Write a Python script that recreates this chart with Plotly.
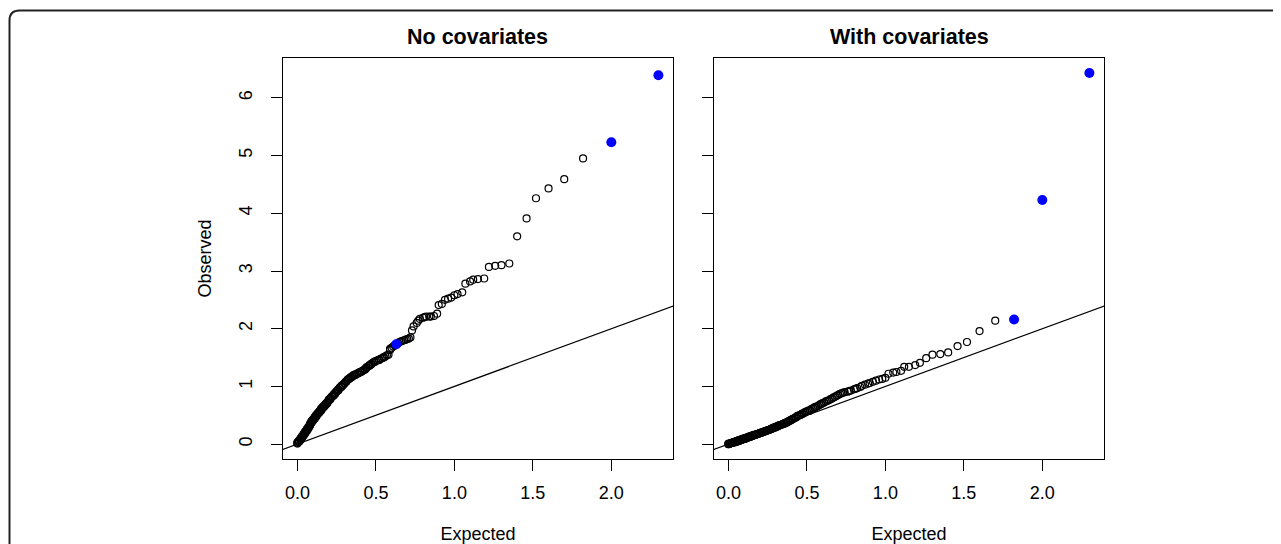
import plotly.graph_objects as go

# ---------------- data ----------------
panel_titles = ["No covariates", "With covariates"]
x_title = "Expected"
y_title = "Observed"
x_tickvals = [0.0, 0.5, 1.0, 1.5, 2.0]
x_ticktext = ["0.0", "0.5", "1.0", "1.5", "2.0"]
y_tickvals = [0, 1, 2, 3, 4, 5, 6]
y_ticktext = ["0", "1", "2", "3", "4", "5", "6"]

# expected -log10(p) quantiles (ranks 1..200)
expected = [
    2.30, 2.00, 1.82, 1.70, 1.60, 1.52, 1.46, 1.40, 1.35, 1.30,
    1.26, 1.22, 1.19, 1.15, 1.12, 1.10, 1.07, 1.05, 1.02, 1.00,
    0.98, 0.96, 0.94, 0.92, 0.90, 0.89, 0.87, 0.85, 0.84, 0.82,
    0.81, 0.80, 0.78, 0.77, 0.76, 0.74, 0.73, 0.72, 0.71, 0.70,
    0.69, 0.68, 0.67, 0.66, 0.65, 0.64, 0.63, 0.62, 0.61, 0.60,
    0.59, 0.59, 0.58, 0.57, 0.56, 0.55, 0.55, 0.54, 0.53, 0.52,
    0.52, 0.51, 0.50, 0.49, 0.49, 0.48, 0.47, 0.47, 0.46, 0.46,
    0.45, 0.44, 0.44, 0.43, 0.43, 0.42, 0.41, 0.41, 0.40, 0.40,
    0.39, 0.39, 0.38, 0.38, 0.37, 0.37, 0.36, 0.36, 0.35, 0.35,
    0.34, 0.34, 0.33, 0.33, 0.32, 0.32, 0.31, 0.31, 0.31, 0.30,
    0.30, 0.29, 0.29, 0.28, 0.28, 0.28, 0.27, 0.27, 0.26, 0.26,
    0.26, 0.25, 0.25, 0.24, 0.24, 0.24, 0.23, 0.23, 0.23, 0.22,
    0.22, 0.21, 0.21, 0.21, 0.20, 0.20, 0.20, 0.19, 0.19, 0.19,
    0.18, 0.18, 0.18, 0.17, 0.17, 0.17, 0.16, 0.16, 0.16, 0.15,
    0.15, 0.15, 0.15, 0.14, 0.14, 0.14, 0.13, 0.13, 0.13, 0.12,
    0.12, 0.12, 0.12, 0.11, 0.11, 0.11, 0.11, 0.10, 0.10, 0.10,
    0.09, 0.09, 0.09, 0.09, 0.08, 0.08, 0.08, 0.08, 0.07, 0.07,
    0.07, 0.07, 0.06, 0.06, 0.06, 0.06, 0.05, 0.05, 0.05, 0.05,
    0.04, 0.04, 0.04, 0.04, 0.03, 0.03, 0.03, 0.03, 0.02, 0.02,
    0.02, 0.02, 0.02, 0.01, 0.01, 0.01, 0.01, 0.00, 0.00, 0.00,
]

observed_no_cov = [
    6.39, 5.23, 4.95, 4.59, 4.43, 4.26, 3.91, 3.60, 3.13, 3.10,
    3.09, 3.07, 2.87, 2.86, 2.85, 2.82, 2.78, 2.63, 2.60, 2.58,
    2.54, 2.52, 2.50, 2.43, 2.41, 2.26, 2.22, 2.21, 2.21, 2.21,
    2.20, 2.19, 2.17, 2.14, 2.10, 2.04, 1.97, 1.85, 1.83, 1.82,
    1.81, 1.80, 1.79, 1.78, 1.77, 1.75, 1.73, 1.71, 1.69, 1.67,
    1.65, 1.63, 1.55, 1.54, 1.52, 1.51, 1.50, 1.49, 1.48, 1.46,
    1.46, 1.45, 1.44, 1.43, 1.42, 1.41, 1.39, 1.38, 1.37, 1.36,
    1.35, 1.33, 1.32, 1.30, 1.29, 1.28, 1.26, 1.26, 1.25, 1.25,
    1.24, 1.23, 1.22, 1.22, 1.21, 1.20, 1.20, 1.19, 1.18, 1.17,
    1.16, 1.15, 1.14, 1.13, 1.12, 1.11, 1.09, 1.08, 1.08, 1.06,
    1.05, 1.03, 1.02, 1.01, 1.00, 0.99, 0.98, 0.97, 0.95, 0.94,
    0.93, 0.92, 0.91, 0.89, 0.88, 0.87, 0.86, 0.85, 0.84, 0.83,
    0.82, 0.80, 0.79, 0.78, 0.77, 0.76, 0.75, 0.73, 0.72, 0.71,
    0.70, 0.69, 0.68, 0.67, 0.66, 0.65, 0.64, 0.63, 0.62, 0.61,
    0.60, 0.59, 0.58, 0.57, 0.56, 0.55, 0.54, 0.53, 0.52, 0.51,
    0.50, 0.49, 0.48, 0.47, 0.46, 0.45, 0.44, 0.43, 0.42, 0.41,
    0.40, 0.39, 0.38, 0.37, 0.35, 0.34, 0.33, 0.32, 0.30, 0.29,
    0.28, 0.27, 0.26, 0.25, 0.24, 0.23, 0.22, 0.21, 0.20, 0.19,
    0.18, 0.17, 0.16, 0.15, 0.14, 0.13, 0.12, 0.11, 0.10, 0.09,
    0.08, 0.08, 0.07, 0.06, 0.05, 0.05, 0.04, 0.03, 0.02, 0.01,
]

observed_with_cov = [
    6.43, 4.23, 2.16, 2.14, 1.96, 1.77, 1.70, 1.59, 1.56, 1.55,
    1.49, 1.41, 1.37, 1.34, 1.34, 1.27, 1.25, 1.24, 1.22, 1.15,
    1.13, 1.12, 1.10, 1.08, 1.06, 1.05, 1.03, 1.01, 0.99, 0.97,
    0.96, 0.95, 0.93, 0.92, 0.91, 0.90, 0.89, 0.88, 0.87, 0.85,
    0.84, 0.82, 0.81, 0.79, 0.78, 0.76, 0.75, 0.74, 0.72, 0.71,
    0.70, 0.69, 0.68, 0.66, 0.65, 0.64, 0.63, 0.62, 0.61, 0.59,
    0.58, 0.58, 0.57, 0.56, 0.55, 0.54, 0.53, 0.52, 0.51, 0.51,
    0.50, 0.49, 0.48, 0.47, 0.46, 0.45, 0.44, 0.43, 0.42, 0.42,
    0.41, 0.40, 0.39, 0.39, 0.38, 0.37, 0.37, 0.36, 0.35, 0.35,
    0.34, 0.34, 0.33, 0.33, 0.32, 0.32, 0.31, 0.31, 0.30, 0.30,
    0.29, 0.29, 0.28, 0.28, 0.27, 0.27, 0.26, 0.26, 0.25, 0.25,
    0.25, 0.24, 0.24, 0.23, 0.23, 0.23, 0.22, 0.22, 0.22, 0.21,
    0.21, 0.20, 0.20, 0.20, 0.19, 0.19, 0.19, 0.18, 0.18, 0.18,
    0.17, 0.17, 0.17, 0.16, 0.16, 0.16, 0.16, 0.15, 0.15, 0.15,
    0.14, 0.14, 0.14, 0.14, 0.13, 0.13, 0.13, 0.12, 0.12, 0.12,
    0.11, 0.11, 0.11, 0.11, 0.10, 0.10, 0.10, 0.10, 0.09, 0.09,
    0.09, 0.09, 0.08, 0.08, 0.08, 0.08, 0.07, 0.07, 0.07, 0.07,
    0.06, 0.06, 0.06, 0.06, 0.05, 0.05, 0.05, 0.05, 0.04, 0.04,
    0.04, 0.04, 0.04, 0.03, 0.03, 0.03, 0.03, 0.03, 0.02, 0.02,
    0.02, 0.02, 0.02, 0.01, 0.01, 0.01, 0.01, 0.01, 0.00, 0.00,
]

# ranks (0-based) drawn as highlighted blue points
highlight_no_cov = [0, 1, 46]
highlight_with_cov = [0, 1, 2]

# ---------------- figure ----------------
PAGE_W, PAGE_H = 1281, 544
OFF = 8  # default page body margin
W, H = PAGE_W - OFF, PAGE_H - OFF
FONT = "Liberation Sans, Arial, Helvetica, sans-serif"
x_range = [-0.092, 2.393]
y_range = [-0.257, 6.69]


def px_x(p):
    return (p - OFF) / W


def px_y(p):
    return 1 - (p - OFF) / H


fig = go.Figure()
panels = [
    (observed_no_cov, highlight_no_cov, "x", "y"),
    (observed_with_cov, highlight_with_cov, "x2", "y2"),
]
for obs, hl, xa, ya in panels:
    fig.add_trace(go.Scatter(
        x=expected, y=obs, mode="markers", xaxis=xa, yaxis=ya,
        marker=dict(symbol="circle-open", size=7, color="black",
                    line=dict(width=1.2, color="black")),
        hoverinfo="skip", showlegend=False))
    fig.add_trace(go.Scatter(
        x=[-1, 3], y=[-1, 3], mode="lines", xaxis=xa, yaxis=ya,
        line=dict(color="black", width=1.2),
        hoverinfo="skip", showlegend=False))
    fig.add_trace(go.Scatter(
        x=[expected[i] for i in hl], y=[obs[i] for i in hl],
        mode="markers", xaxis=xa, yaxis=ya,
        marker=dict(symbol="circle", size=10, color="#0000ff"),
        showlegend=False))

tickfont = dict(family=FONT, size=18, color="black")
xcommon = dict(
    range=x_range, tickvals=x_tickvals, ticktext=x_ticktext,
    ticks="outside", ticklen=11, tickwidth=1, tickcolor="black",
    showline=True, linecolor="black", linewidth=1, mirror=True,
    showgrid=False, zeroline=False, tickfont=tickfont,
    ticklabelstandoff=6, automargin=False,
    title=dict(text=x_title, font=tickfont, standoff=38),
)
ycommon = dict(
    range=y_range, tickvals=y_tickvals, ticktext=y_ticktext,
    ticks="outside", ticklen=11, tickwidth=1, tickcolor="black",
    showline=True, linecolor="black", linewidth=1, mirror=True,
    showgrid=False, zeroline=False, tickfont=tickfont, tickangle=-90,
    ticklabelstandoff=12, automargin=False,
)

left_dom = [px_x(283), px_x(673)]
right_dom = [px_x(714), px_x(1104)]
y_dom = [px_y(459), px_y(58)]

fig.update_layout(
    width=W, height=H,
    margin=dict(l=0, r=0, t=0, b=0),
    paper_bgcolor="white", plot_bgcolor="white",
    font=dict(family=FONT, color="black"),
    showlegend=False,
    xaxis=dict(domain=left_dom, anchor="y", **xcommon),
    xaxis2=dict(domain=right_dom, anchor="y2", **xcommon),
    yaxis=dict(domain=y_dom, anchor="x",
               title=dict(text=y_title, font=tickfont, standoff=19), **ycommon),
    yaxis2=dict(domain=y_dom, anchor="x2", showticklabels=False, **ycommon),
)

for i, t in enumerate(panel_titles):
    dom = left_dom if i == 0 else right_dom
    fig.add_annotation(
        text=t, xref="paper", yref="paper",
        x=(dom[0] + dom[1]) / 2, y=px_y(37),
        xanchor="center", yanchor="middle", showarrow=False,
        font=dict(family=FONT, size=21.5, color="black", weight="bold"))

# outer rounded frame (top-left corner of a panel border)
xl, yt, r = px_x(9.5), px_y(10.5), 10
fig.add_shape(
    type="path", xref="paper", yref="paper",
    path=(f"M {xl},{-0.1} L {xl},{px_y(10.5 + r)} "
          f"Q {xl},{yt} {px_x(9.5 + r)},{yt} L 1.1,{yt}"),
    line=dict(color="#222222", width=2))

fig.write_html("out.html")
